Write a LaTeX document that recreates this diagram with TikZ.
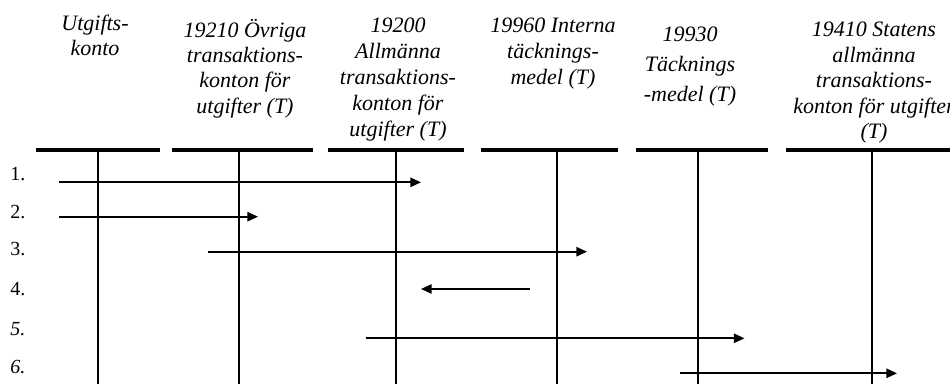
\documentclass[tikz,border=0pt]{standalone}
\usepackage{fontspec}
\setmainfont{Liberation Serif}
\usetikzlibrary{arrows.meta}
\begin{document}
\begin{tikzpicture}[x=0.75pt,y=-0.75pt,
  hdr/.style={anchor=base,inner sep=0pt,font=\fontsize{16.5}{19.1}\selectfont\itshape},
  num/.style={anchor=base west,inner sep=0pt,font=\fontsize{15}{18}\selectfont},
  numit/.style={num,font=\fontsize{15}{18}\selectfont\itshape},
  bar/.style={line width=3pt},
  vline/.style={line width=1.5pt},
  flow/.style={line width=1.3pt,-{Triangle[length=8pt,width=7pt]}}]
\useasboundingbox (0,0) rectangle (950,383);
\clip (0,0) rectangle (950,383);
% headers
\node[hdr] (h1) at (95,30) {\begin{tabular}[t]{@{}c@{}}Utgifts-\\[-0.3pt]konto\end{tabular}};
\node[hdr] (h2) at (245,37) {\begin{tabular}[t]{@{}c@{}}19210 Övriga\\transaktions-\\konton för\\utgifter (T)\end{tabular}};
\node[hdr] (h3) at (398,32) {\fontsize{16.5}{19.5}\selectfont\begin{tabular}[t]{@{}c@{}}19200\\Allmänna\\transaktions-\\konton för\\utgifter (T)\end{tabular}};
\node[hdr] (h4) at (553,32) {\fontsize{16.5}{19.5}\selectfont\begin{tabular}[t]{@{}c@{}}19960 Interna\\täcknings-\\medel (T)\end{tabular}};
\node[hdr] (h5) at (690,41.7) {\fontsize{16.5}{22.5}\selectfont\begin{tabular}[t]{@{}c@{}}19930\\Täcknings\\-medel (T)\end{tabular}};
\node[hdr] (h6) at (874,36.7) {\begin{tabular}[t]{@{}c@{}}19410 Statens\\allmänna\\transaktions-\\konton för utgifter\\(T)\end{tabular}};
% header bars
\coordinate (b1l) at (36,150); \coordinate (b1r) at (160,150);
\coordinate (b2l) at (172,150); \coordinate (b2r) at (313,150);
\coordinate (b3l) at (328,150); \coordinate (b3r) at (464,150);
\coordinate (b4l) at (481,150); \coordinate (b4r) at (618,150);
\coordinate (b5l) at (636,150); \coordinate (b5r) at (768,150);
\coordinate (b6l) at (786,150); \coordinate (b6r) at (955,150);
\foreach \i in {1,...,6} {\draw[bar] (b\i l) -- (b\i r);}
% vertical lines
\coordinate (v1t) at (97.7,150); \coordinate (v1b) at (97.7,385);
\coordinate (v2t) at (238.7,150); \coordinate (v2b) at (238.7,385);
\coordinate (v3t) at (396,150); \coordinate (v3b) at (396,385);
\coordinate (v4t) at (557,150); \coordinate (v4b) at (557,385);
\coordinate (v5t) at (698,150); \coordinate (v5b) at (698,385);
\coordinate (v6t) at (872,150); \coordinate (v6b) at (872,385);
\foreach \i in {1,...,6} {\draw[vline] (v\i t) -- (v\i b);}
% row numbers
\node[num] (n1) at (10,180) {1.};
\node[num] (n2) at (10,218.3) {2.};
\node[num] (n3) at (10,255) {3.};
\node[num] (n4) at (10,295) {4.};
\node[numit] (n5) at (10,335) {5.};
\node[numit] (n6) at (10,373.3) {6.};
% flows
\coordinate (a1s) at (59,182.3); \coordinate (a1e) at (421,182.3);
\coordinate (a2s) at (59,216.7); \coordinate (a2e) at (258,216.7);
\coordinate (a3s) at (208,251.7); \coordinate (a3e) at (587,251.7);
\coordinate (a4s) at (529.5,289); \coordinate (a4e) at (421,289);
\coordinate (a5s) at (365.7,338.3); \coordinate (a5e) at (744.5,338.3);
\coordinate (a6s) at (680,373.3); \coordinate (a6e) at (897,373.3);
\foreach \i in {1,...,6} {\draw[flow] (a\i s) -- (a\i e);}
\end{tikzpicture}
\end{document}
